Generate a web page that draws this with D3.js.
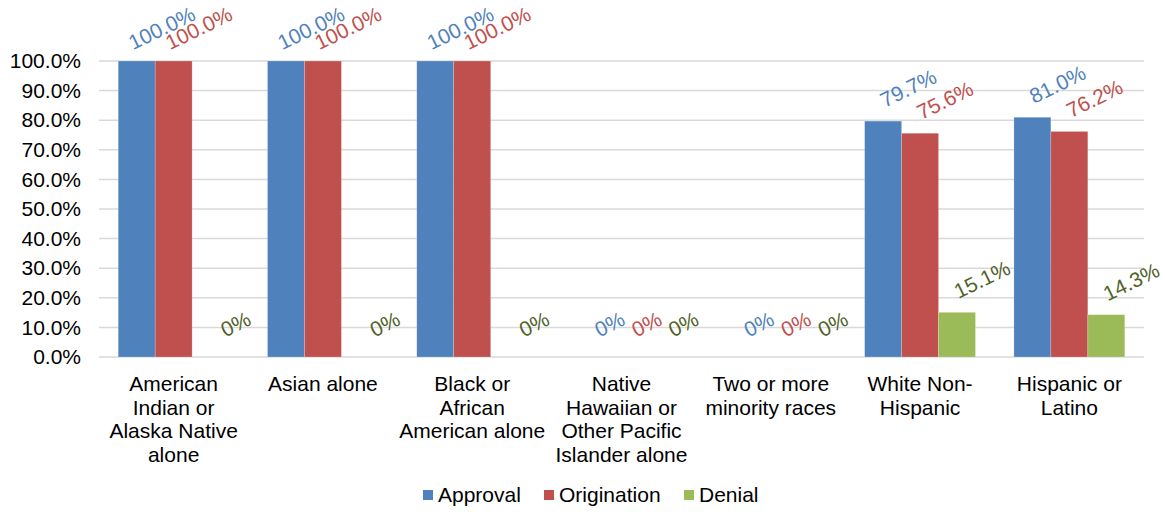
<!DOCTYPE html>
<html>
<head>
<meta charset="utf-8">
<script src="https://cdn.jsdelivr.net/npm/d3@7"></script>
<style>
  html, body { margin: 0; padding: 0; background: #fff; }
  svg { display: block; font-family: "Liberation Sans", Arial, sans-serif; }
</style>
</head>
<body>
<svg id="chart" width="1165" height="512"></svg>
<script>
// Loan outcomes by race / ethnicity (share of applications)
const categories = [
  ["American", "Indian or", "Alaska Native", "alone"],
  ["Asian alone"],
  ["Black or", "African", "American alone"],
  ["Native", "Hawaiian or", "Other Pacific", "Islander alone"],
  ["Two or more", "minority races"],
  ["White Non-", "Hispanic"],
  ["Hispanic or", "Latino"]
];
const seriesNames = ["Approval", "Origination", "Denial"];
const approval    = [1.000, 1.000, 1.000, 0, 0, 0.797, 0.810];
const origination = [1.000, 1.000, 1.000, 0, 0, 0.756, 0.762];
const denial      = [0, 0, 0, 0, 0, 0.151, 0.143];
const yTicks = [0, 0.1, 0.2, 0.3, 0.4, 0.5, 0.6, 0.7, 0.8, 0.9, 1.0];

const barColors   = ["#4F81BD", "#C0504D", "#9BBB59"];
const labelColors = ["#4F81BD", "#C0504D", "#4F6228"];
const seriesValues = [approval, origination, denial];
const fontSize = 21;

const svg = d3.select("#chart");
const plotLeft = 99, plotRight = 1144, plotTop = 61, plotBottom = 357;

const keys = categories.map((c, i) => "c" + i);
const x0 = d3.scaleBand().domain(keys).range([plotLeft, plotRight]).padding(0);
const x1 = d3.scaleBand().domain(seriesNames).range([0, x0.bandwidth()])
  .paddingInner(0).paddingOuter(0.52);
const y = d3.scaleLinear().domain([0, 1]).range([plotBottom, plotTop]);

// gridlines
svg.append("g").selectAll("line").data(yTicks).join("line")
  .attr("x1", plotLeft).attr("x2", plotRight)
  .attr("y1", d => y(d)).attr("y2", d => y(d))
  .attr("stroke", "#D9D9D9").attr("stroke-width", 1.5);

// y axis labels
const yAxis = d3.axisLeft(y).tickValues(yTicks).tickSize(0).tickPadding(0)
  .tickFormat(d => (d * 100).toFixed(1) + "%");
const yg = svg.append("g").attr("transform", `translate(81,0)`).call(yAxis);
yg.select(".domain").remove();
yg.selectAll("text").attr("font-size", fontSize).attr("fill", "#000")
  .attr("font-family", "Liberation Sans, Arial, sans-serif");

// bars
const rows = [];
keys.forEach((k, ci) => {
  seriesNames.forEach((s, si) => {
    rows.push({ k, s, si, v: seriesValues[si][ci] });
  });
});

svg.append("g").selectAll("rect").data(rows.filter(d => d.v > 0)).join("rect")
  .attr("x", d => x0(d.k) + x1(d.s))
  .attr("width", x1.bandwidth())
  .attr("y", d => y(d.v))
  .attr("height", d => y(0) - y(d.v))
  .attr("fill", d => barColors[d.si])
  .attr("stroke", "#fff").attr("stroke-opacity", 0.35).attr("stroke-width", 0.6);

// data labels, rotated
const fmt = v => v === 0 ? "0%" : (v * 100).toFixed(1) + "%";
svg.append("g").selectAll("text").data(rows).join("text")
  .attr("transform", d => {
    const cx = x0(d.k) + x1(d.s) + x1.bandwidth() / 2 + 25;
    const cy = y(d.v) - 33;
    return `translate(${cx},${cy}) rotate(-26)`;
  })
  .attr("text-anchor", "middle")
  .attr("dominant-baseline", "central")
  .attr("font-size", fontSize)
  .attr("fill", d => labelColors[d.si])
  .text(d => fmt(d.v));

// category labels
const xg = svg.append("g");
categories.forEach((lines, i) => {
  const cx = x0(keys[i]) + x0.bandwidth() / 2;
  const t = xg.append("text")
    .attr("x", cx)
    .attr("y", 391)
    .attr("text-anchor", "middle")
    .attr("font-size", fontSize)
    .attr("fill", "#000");
  lines.forEach((ln, j) => {
    t.append("tspan").attr("x", cx)
      .attr("dy", j === 0 ? 0 : 23.7).text(ln);
  });
});

// legend
const legendX = [423, 544, 684];
const lg = svg.append("g");
seriesNames.forEach((s, i) => {
  lg.append("rect").attr("x", legendX[i]).attr("y", 490)
    .attr("width", 10).attr("height", 10).attr("fill", barColors[i]);
  lg.append("text").attr("x", legendX[i] + 15).attr("y", 502)
    .attr("font-size", fontSize).attr("fill", "#000").text(s);
});
</script>
</body>
</html>
